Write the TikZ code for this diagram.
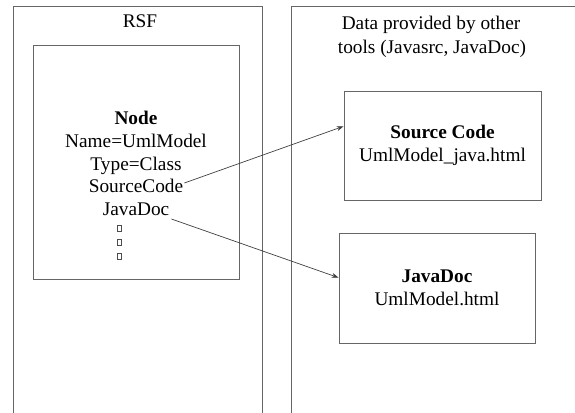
\documentclass[tikz,border=0pt]{standalone}
\usepackage{fontspec}
\setmainfont{Liberation Serif}
\usetikzlibrary{arrows.meta}
\begin{document}
\begin{tikzpicture}[x=1pt,y=-1pt,
  frame/.style={draw=black!60, line width=0.8pt},
  box/.style={draw=black!60, line width=0.8pt, inner sep=0pt, align=center,
    font=\fontsize{19.3}{23}\selectfont},
  txt/.style={font=\fontsize{19.3}{23}\selectfont, inner sep=0pt, anchor=base},
  link/.style={draw=black!75, line width=0.7pt, -{Stealth[length=7pt,width=5pt]}},
  dotbox/.style={draw=black!70, line width=0.5pt, minimum width=4pt,
    minimum height=5.5pt, inner sep=0pt}]
\useasboundingbox (0,0) rectangle (575,412);
\begin{scope}
  \clip (0,0) rectangle (575,412);
  % the two panels run off the page at the bottom and on the right
  \draw[frame] (13,430) -- (13,6) -- (262,6) -- (262,430);
  \draw[frame] (291,430) -- (291,6) -- (590,6);
\end{scope}

% panel titles
\node[txt] (rsf) at (140,28) {RSF};
\node[txt] (data1) at (431,30) {Data provided by other};
\node[txt] (data2) at (432,53) {tools (Javasrc, JavaDoc)};

% the RSF node with its attributes
\node[box, minimum width=206pt, minimum height=234pt] (nodebox) at (136,162) {};
\node[txt] (ntitle) at (136,124) {\textbf{Node}};
\node[txt] (nname) at (136,147) {Name=UmlModel};
\node[txt] (ntype) at (136,170) {Type=Class};
\node[txt] (nsrc) at (136,192) {SourceCode};
\node[txt] (njd) at (136,215) {JavaDoc};
\node[dotbox] (d1) at (119.5,228) {};
\node[dotbox] (d2) at (119.5,242) {};
\node[dotbox] (d3) at (119.5,256) {};

% documents produced by the other tools
\node[box, minimum width=197pt, minimum height=109pt] (sc) at (442.5,145.5)
  {\textbf{Source Code}\\UmlModel\_java.html};
\node[box, minimum width=196pt, minimum height=110pt] (jd) at (437,288)
  {\textbf{JavaDoc}\\UmlModel.html};

% links from the attributes to the documents
\draw[link] ([shift={(1pt,9pt)}]nsrc.base east) -- (sc.169);
\draw[link] ([shift={(2pt,-4pt)}]njd.base east) -- (jd.174);
\end{tikzpicture}
\end{document}
